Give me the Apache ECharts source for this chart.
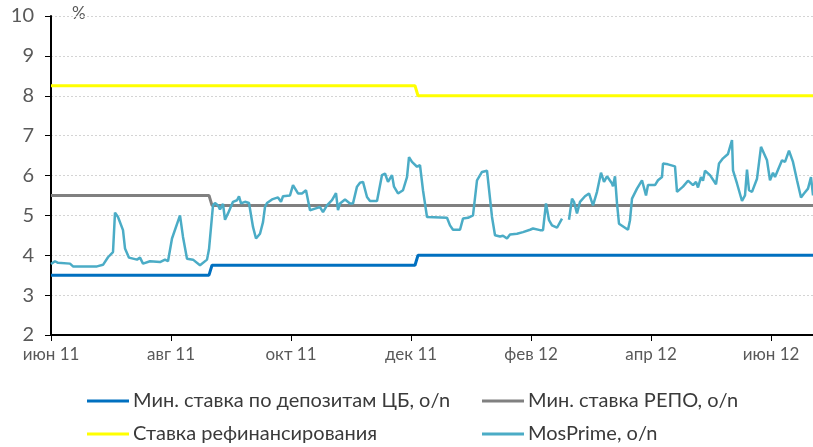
<!DOCTYPE html>
<html>
<head>
<meta charset="utf-8">
<script src="https://cdn.jsdelivr.net/npm/echarts@6/dist/echarts.min.js"></script>
<style>
html,body{margin:0;padding:0;background:#fff;}
#chart{width:813px;height:447px;}
</style>
</head>
<body>
<div id="chart"></div>
<script>
// x values are calendar days counted from the first axis tick ("июн 11")
const monthLabels = ['июн 11', 'авг 11', 'окт 11', 'дек 11', 'фев 12', 'апр 12', 'июн 12'];
const tickDays = [0, 60, 120, 180, 240, 300, 360];
const axisEndDay = 381;

const seriesNames = ['Мин. ставка по депозитам ЦБ, o/n', 'Мин. ставка РЕПО, o/n', 'Ставка рефинансирования', 'MosPrime, o/n'];

const stepDays = [0, 79, 80.5, 182, 183.5, 381];
const depositRate = [3.5, 3.5, 3.75, 3.75, 4.0, 4.0];
const repoRate = [5.5, 5.5, 5.25, 5.25, 5.25, 5.25];
const refiRate = [8.25, 8.25, 8.25, 8.25, 8.0, 8.0];

const mosDays = [0, 2, 3.5, 9.5, 11, 23, 26, 28.5, 31, 32, 33.5, 36, 37, 39, 43, 44.5, 46, 49.5, 54.5, 57, 58.5, 60.5, 64.5, 66, 68, 71, 74.5, 78, 79,
  81, 82, 83.5, 84.5, 86, 87, 88.5, 91, 93, 94, 95, 97, 99, 101, 102.5, 104.5, 106, 107, 108, 110.5, 113.5, 115, 116, 119.5,
  121, 122, 123.5, 125.5, 127.5, 129.5, 132, 134.5, 136, 137, 138, 140.5, 142.5, 143.5, 144.5, 147, 149.5, 151, 153, 154.5, 156, 158, 159.5,
  163, 165.5, 167, 168.5, 170.5, 171.5, 173.5, 176, 178, 179, 180.5, 183, 184.5, 185.5, 186, 187, 188, 198, 199.5, 201, 204.5, 206, 208.5,
  211, 213, 215.5, 218, 218.5, 220.5, 222, 224.5, 226, 228, 229.5, 233, 236, 239.5, 241, 244.5, 246, 247.5, 249, 250.5, 253, 254, 255.5,
  257, 259, 260.5, 261.5, 263, 264.5, 267, 269, 271, 273, 275, 276.5, 278, 280.5, 281, 282, 283, 284, 288.5, 289.5, 290.5, 291.5, 293,
  295.5, 297.5, 298.5, 302, 303.5, 305.5, 306, 308.5, 312, 313, 316, 318.5, 321, 322.5, 323.5, 325, 326, 327, 329.5, 332.5, 334, 336,
  338.5, 340.5, 341, 343, 345.5, 347, 348, 349, 350.5, 353, 355, 356, 358, 359.5, 361, 362, 365.5, 367, 369, 371, 373, 375, 376.5, 378.5, 380, 381];
const mosRate = [3.78, 3.85, 3.81, 3.79, 3.72, 3.72, 3.76, 3.95, 4.08, 5.07, 4.96, 4.63, 4.17, 3.94, 3.89, 3.94, 3.79, 3.85, 3.83, 3.89, 3.85, 4.42, 5.00, 4.46, 3.91, 3.89, 3.75, 3.89, 4.15,
  5.25, 5.31, 5.25, 5.15, 5.29, 4.89, 5.05, 5.34, 5.38, 5.48, 5.30, 5.34, 5.31, 4.71, 4.42, 4.54, 4.83, 5.21, 5.31, 5.40, 5.45, 5.34, 5.48, 5.50,
  5.76, 5.80, 5.55, 5.55, 5.63, 5.13, 5.17, 5.21, 5.08, 5.03, 5.25, 5.38, 5.56, 5.13, 5.30, 5.40, 5.30, 5.30, 5.72, 5.82, 5.84, 5.46, 5.36,
  5.36, 6.01, 6.05, 5.84, 6.01, 5.72, 5.55, 5.63, 5.96, 6.46, 6.34, 6.22, 6.26, 6.22, 5.63, 5.59, 4.96, 4.94, 4.75, 4.64, 4.64, 4.92, 4.94,
  5.00, 5.88, 6.09, 6.12, 6.09, 4.96, 4.50, 4.47, 4.49, 4.42, 4.52, 4.54, 4.58, 4.64, 4.67, 4.63, 4.63, 5.30, 4.88, 4.75, 4.69, 4.64, 4.92,
  null, 4.89, 5.42, 5.34, 5.05, 5.34, 5.48, 5.55, 5.25, 5.59, 6.07, 5.84, 5.98, 5.80, 5.73, 5.98, 5.30, 4.79, 4.64, 4.88, 5.42, 5.45, 5.67,
  5.88, 5.50, 5.76, 5.76, 5.88, 5.96, 6.30, 6.28, 6.23, 5.59, 5.72, 5.87, 5.76, 5.84, 5.70, 5.96, 5.87, 6.12, 6.01, 5.78, 6.30, 6.43,
  6.54, 6.89, 6.13, 5.80, 5.36, 5.50, 6.15, 5.63, 5.59, 5.92, 6.72, 6.68, 6.38, 5.88, 6.07, 5.96, 6.38, 6.34, 6.62, 6.34, 5.88, 5.45, 5.55, 5.67, 5.96, 5.50];

const colors = ['#0070C0', '#808080', '#FFFF00', '#4BACC6'];
const FONT = 'Lato';
const TEXT = '#595959';

const zip = (xs, ys) => xs.map((x, i) => [x, ys[i]]);

const chart = echarts.init(document.getElementById('chart'), null, { renderer: 'canvas' });

function mkLegend(name, left, top) {
  return {
    data: [name], left: left, top: top, orient: 'horizontal',
    icon: 'rect', itemWidth: 42, itemHeight: 3, itemGap: 0,
    selectedMode: false, padding: 0,
    textStyle: { fontFamily: FONT, fontSize: 20, color: '#3a3a3a', padding: [0, 0, 0, -1] }
  };
}

const option = {
  animation: false,
  backgroundColor: '#fff',
  color: colors,
  grid: { left: 51, right: 0, top: 16, bottom: 112, containLabel: false },
  xAxis: {
    type: 'value', min: 0, max: axisEndDay, interval: 60,
    axisLine: { show: true, onZero: false, lineStyle: { color: '#000', width: 2 } },
    axisTick: { show: true, length: 6, inside: false, lineStyle: { color: '#000', width: 1 }, customValues: tickDays },
    axisLabel: {
      customValues: tickDays,
      formatter: v => { const i = tickDays.indexOf(Math.round(v)); return i >= 0 ? monthLabels[i] : ''; },
      fontFamily: FONT, fontSize: 17, color: TEXT, margin: 11
    },
    splitLine: { show: false }
  },
  yAxis: {
    type: 'value', min: 2, max: 10, interval: 1,
    axisLine: { show: true, lineStyle: { color: '#000', width: 2 } },
    axisTick: { show: true, length: 6, lineStyle: { color: '#000', width: 1 } },
    axisLabel: { fontFamily: FONT, fontSize: 20, color: TEXT, margin: 17 },
    splitLine: { show: true, lineStyle: { color: '#d4d4d4', width: 1, type: [2, 2] } }
  },
  legend: [
    mkLegend(seriesNames[0], 87, 391),
    mkLegend(seriesNames[1], 482, 391),
    mkLegend(seriesNames[2], 87, 424),
    mkLegend(seriesNames[3], 482, 424)
  ],
  graphic: [{
    type: 'text', left: 72, top: 5,
    style: { text: '%', font: '17px ' + FONT, fill: TEXT }
  }],
  series: [
    { name: seriesNames[0], type: 'line', data: zip(stepDays, depositRate), showSymbol: false, symbol: 'none', lineStyle: { width: 3, color: colors[0] } },
    { name: seriesNames[1], type: 'line', data: zip(stepDays, repoRate), showSymbol: false, symbol: 'none', lineStyle: { width: 3, color: colors[1] } },
    { name: seriesNames[2], type: 'line', data: zip(stepDays, refiRate), showSymbol: false, symbol: 'none', lineStyle: { width: 3, color: colors[2] } },
    { name: seriesNames[3], type: 'line', data: zip(mosDays, mosRate), showSymbol: false, symbol: 'none', connectNulls: false, lineStyle: { width: 2.5, color: colors[3] } }
  ]
};
chart.setOption(option);
</script>
</body>
</html>
